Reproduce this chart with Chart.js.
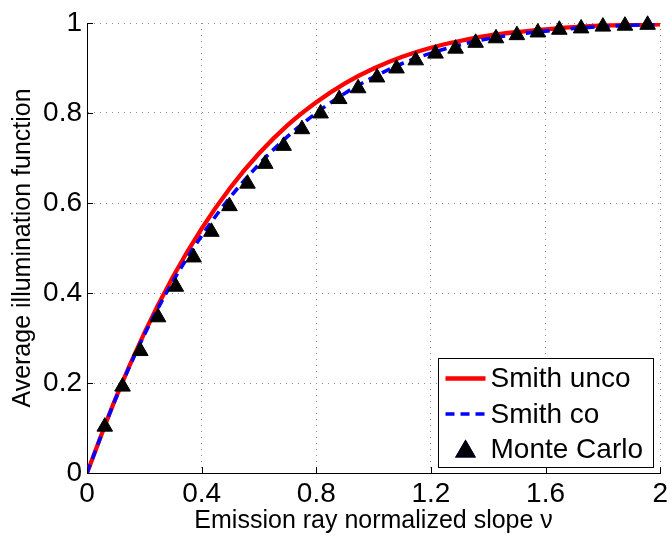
<!DOCTYPE html>
<html>
<head>
<meta charset="utf-8">
<script src="https://cdn.jsdelivr.net/npm/chart.js@4.4.1/dist/chart.umd.min.js"></script>
<style>
  html, body { margin: 0; padding: 0; background: #fff; }
  #wrap { width: 672px; height: 539px; }
</style>
</head>
<body>
<div id="wrap"><canvas id="chart" width="672" height="539"></canvas></div>
<script>
// ---- values ----
const slopeGrid = [0, 0.1, 0.2, 0.3, 0.4, 0.5, 0.6, 0.7, 0.8, 0.9, 1.0,
                   1.1, 1.2, 1.3, 1.4, 1.5, 1.6, 1.7, 1.8, 1.9, 2.0];
const smithUnco = [0, 0.166, 0.311, 0.436, 0.543, 0.634, 0.710, 0.773, 0.824, 0.866, 0.899,
                   0.925, 0.945, 0.960, 0.972, 0.980, 0.986, 0.991, 0.994, 0.996, 0.997];
const smithCo   = [0, 0.165, 0.307, 0.426, 0.527, 0.613, 0.686, 0.748, 0.800, 0.844, 0.880,
                   0.910, 0.933, 0.951, 0.965, 0.975, 0.982, 0.988, 0.992, 0.995, 0.996];

const mcSlope = [0.062, 0.124, 0.186, 0.248, 0.31, 0.372, 0.434, 0.497, 0.56, 0.622,
                 0.686, 0.75, 0.815, 0.88, 0.946, 1.012, 1.08, 1.147, 1.216, 1.286,
                 1.356, 1.427, 1.5, 1.573, 1.648, 1.724, 1.8, 1.877, 1.956];
const mcIllum = [0.103, 0.192, 0.271, 0.346, 0.414, 0.479, 0.536, 0.593, 0.643, 0.687,
                 0.727, 0.764, 0.799, 0.831, 0.855, 0.879, 0.899, 0.917, 0.932, 0.943,
                 0.956, 0.966, 0.973, 0.979, 0.985, 0.988, 0.992, 0.994, 0.996];

const xTicks = [0, 0.4, 0.8, 1.2, 1.6, 2];
const xTickLabels = ["0", "0.4", "0.8", "1.2", "1.6", "2"];
const yTicks = [0, 0.2, 0.4, 0.6, 0.8, 1];
const yTickLabels = ["0", "0.2", "0.4", "0.6", "0.8", "1"];

const seriesNames = ["Smith unco", "Smith co", "Monte Carlo"];
const xTitle = "Emission ray normalized slope \u03bd";
const yTitle = "Average illumination function";

const FONT = "'Liberation Sans', Arial, Helvetica, sans-serif";

// inward ticks (matlab style) + legend box inside the axes
const matlabAxes = {
  id: "matlabAxes",
  afterDraw(chart) {
    const c = chart.ctx, a = chart.chartArea;
    const xs = chart.scales.x, ys = chart.scales.y;
    c.save();
    c.strokeStyle = "#000";
    c.lineWidth = 1;
    c.beginPath();
    xTicks.forEach(v => {
      const px = Math.round(xs.getPixelForValue(v)) + 0.5;
      c.moveTo(px, a.bottom); c.lineTo(px, a.bottom - 6);
    });
    yTicks.forEach(v => {
      const py = Math.round(ys.getPixelForValue(v)) + 0.5;
      c.moveTo(a.left, py); c.lineTo(a.left + 6, py);
    });
    c.stroke();

    // legend
    const bx = Math.round(a.right - 222) + 0.5, by = Math.round(a.bottom - 115) + 0.5;
    const bw = 215, bh = 109;
    c.fillStyle = "#fff";
    c.fillRect(bx, by, bw, bh);
    c.strokeRect(bx, by, bw, bh);
    c.font = "28px " + FONT;
    c.textBaseline = "middle";
    c.textAlign = "left";
    chart.data.datasets.forEach((ds, i) => {
      const ry = by + 20 + i * 35.5;
      if (ds.showLine === false) {
        Chart.helpers.drawPoint(c, {
          pointStyle: "triangle", radius: 8.5, borderWidth: 1
        }, bx + 27, ry + 2);
        c.fillStyle = ds.pointBackgroundColor;
        c.strokeStyle = ds.pointBorderColor;
        c.fill(); c.stroke();
      } else {
        c.strokeStyle = ds.borderColor;
        c.lineWidth = ds.borderWidth;
        c.setLineDash(ds.borderDash || []);
        c.beginPath();
        c.moveTo(bx + 7, ry); c.lineTo(bx + 47, ry);
        c.stroke();
        c.setLineDash([]);
      }
      c.fillStyle = "#000";
      c.fillText(ds.label, bx + 52, ry + 1);
    });
    c.restore();
  }
};

new Chart(document.getElementById("chart").getContext("2d"), {
  type: "line",
  data: {
    datasets: [
      {
        label: seriesNames[0],
        data: slopeGrid.map((x, i) => ({ x: x, y: smithUnco[i] })),
        borderColor: "#ff0000",
        borderWidth: 4.3,
        pointRadius: 0,
        cubicInterpolationMode: "monotone",
        fill: false,
        order: 3
      },
      {
        label: seriesNames[1],
        data: slopeGrid.map((x, i) => ({ x: x, y: smithCo[i] })),
        borderColor: "#0000ff",
        borderWidth: 3.6,
        borderDash: [9, 6],
        pointRadius: 0,
        cubicInterpolationMode: "monotone",
        fill: false,
        order: 2
      },
      {
        label: seriesNames[2],
        data: mcSlope.map((x, i) => ({ x: x, y: mcIllum[i] })),
        showLine: false,
        pointStyle: "triangle",
        pointRadius: 9,
        pointBackgroundColor: "#000",
        pointBorderColor: "#000",
        pointBorderWidth: 1,
        clip: false,
        order: 1
      }
    ]
  },
  options: {
    responsive: false,
    animation: false,
    layout: { padding: { top: 23, right: 10, left: 0, bottom: 0 } },
    plugins: { legend: { display: false }, tooltip: { enabled: false } },
    scales: {
      x: {
        type: "linear", min: 0, max: 2,
        afterBuildTicks: s => { s.ticks = xTicks.map(v => ({ value: v })); },
        afterFit: s => { s.height = 66; },
        ticks: {
          callback: v => xTickLabels[xTicks.indexOf(v)],
          color: "#000", font: { family: FONT, size: 28 },
          padding: 4, maxRotation: 0, autoSkip: false
        },
        grid: { color: "#8c8c8c", lineWidth: 1, drawTicks: false, borderDash: [1, 5] },
        border: { display: true, color: "#000", width: 1, dash: [1, 5] },
        title: {
          display: true, text: xTitle, color: "#000",
          font: { family: FONT, size: 25 }, padding: { top: 0, bottom: 3 }
        }
      },
      y: {
        type: "linear", min: 0, max: 1,
        afterBuildTicks: s => { s.ticks = yTicks.map(v => ({ value: v })); },
        afterFit: s => { s.width = 87; },
        ticks: {
          callback: v => yTickLabels[yTicks.indexOf(v)],
          color: "#000", font: { family: FONT, size: 28 },
          padding: 5, autoSkip: false
        },
        grid: { color: "#8c8c8c", lineWidth: 1, drawTicks: false, borderDash: [1, 5] },
        border: { display: true, color: "#000", width: 1, dash: [1, 5] },
        title: {
          display: true, text: yTitle, color: "#000",
          font: { family: FONT, size: 25 }, padding: { top: 8, bottom: 0 }
        }
      }
    }
  },
  plugins: [matlabAxes]
});
</script>
</body>
</html>
